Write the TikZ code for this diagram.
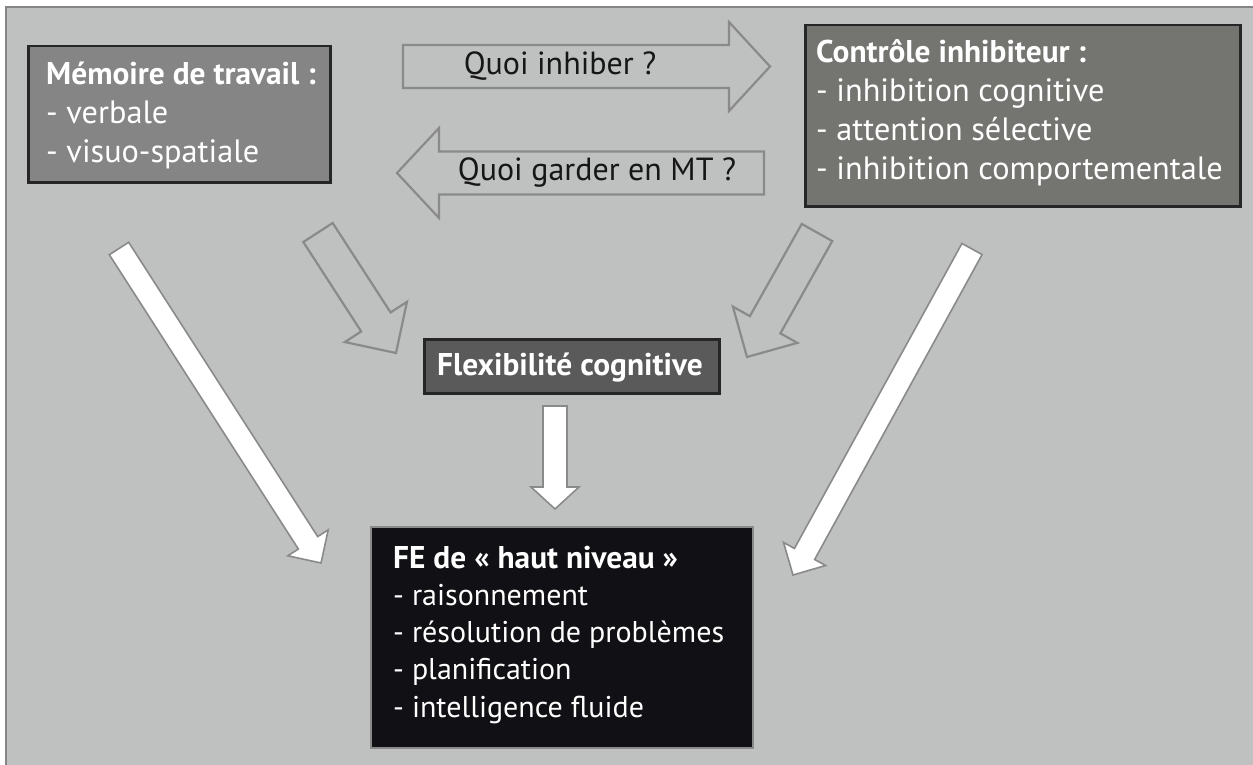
\documentclass[tikz,border=0pt]{standalone}
\usepackage{fontspec}
\setmainfont{PT Sans}
\usetikzlibrary{calc}
\definecolor{bg}{HTML}{BEC1BF}
\definecolor{frame}{HTML}{858585}
\definecolor{arrgray}{HTML}{8A8A8A}
\definecolor{mtfill}{HTML}{858585}
\definecolor{cifill}{HTML}{747571}
\definecolor{flexfill}{HTML}{5A5A5A}
\definecolor{fefill}{HTML}{111014}
\definecolor{darkedge}{HTML}{262626}
\definecolor{txt}{HTML}{161616}
\newcommand\blockarr[6]{%
  \coordinate (ba-n) at ($(#2)!#5pt!(#1)$);
  \path[#6] ($(#1)!#3pt!90:(#2)$) -- ($(ba-n)!#3pt!90:(#2)$) -- ($(ba-n)!#4pt!90:(#2)$) -- (#2)
     -- ($(ba-n)!#4pt!-90:(#2)$) -- ($(ba-n)!#3pt!-90:(#2)$) -- ($(#1)!#3pt!-90:(#2)$) -- cycle;}
\newcommand\hd[1]{{\fontsize{31.4}{38.7}\selectfont\bfseries #1}}
\tikzset{
  boxshape/.style={draw=#1, rectangle, inner sep=0pt, anchor=north west},
  boxtext/.style={anchor=base west, inner sep=0pt, text=white,
    font=\fontsize{32.3}{38.7}\selectfont},
  hollowarr/.style={draw=arrgray, line width=2.2pt},
  whitearr/.style={draw=arrgray, fill=white, line width=1.6pt},
  arrlabel/.style={inner sep=0pt, text=txt, font=\fontsize{32}{36}\selectfont},
}
\begin{document}
\begin{tikzpicture}[x=1pt,y=-1pt]
\useasboundingbox (0,0) rectangle (1253,765);
\fill[white] (0,0) rectangle (1253,765);
\draw[draw=frame, line width=2pt, fill=bg] (6,7) rectangle (1270,790);

% boxes
\node[boxshape=darkedge, line width=2.5pt, fill=mtfill, minimum width=302pt, minimum height=136pt] (mt) at (27,45) {};
\node[boxtext] (mt-t) at (46,85) {\begin{tabular}[t]{@{}l@{}}\hd{Mémoire de travail :}\\- verbale\\- visuo-spatiale\end{tabular}};

\node[boxshape=darkedge, line width=2.5pt, fill=cifill, minimum width=435pt, minimum height=181pt] (ci) at (804,24) {};
\node[boxtext] (ci-t) at (816,63) {\begin{tabular}[t]{@{}l@{}}\hd{Contrôle inhibiteur :}\\- inhibition cognitive\\- attention sélective\\- inhibition comportementale\end{tabular}};

\node[boxshape=darkedge, line width=2.5pt, fill=flexfill, minimum width=295pt, minimum height=54pt] (flex) at (423,338) {};
\node[boxtext] (flex-t) at (437,375) {\hd{Flexibilité cognitive}};

\node[boxshape=arrgray, line width=1.5pt, fill=fefill, minimum width=382pt, minimum height=221pt] (fe) at (370,526) {};
\node[boxtext, font=\fontsize{30}{37.3}\selectfont] (fe-t) at (393,568) {\begin{tabular}[t]{@{}l@{}}\hd{FE de « haut niveau »}\\- raisonnement\\- résolution de problèmes\\- planification\\- intelligence fluide\end{tabular}};

% arrow end points
\coordinate (qi-a) at (403,66.5);  \coordinate (qi-b) at (770,66.5);
\coordinate (qg-a) at (764,173);   \coordinate (qg-b) at (397,173);
\coordinate (mf-a) at (318,232.5); \coordinate (mf-b) at (396,353);
\coordinate (cf-a) at (817,232.5); \coordinate (cf-b) at (747,357);
\coordinate (mfe-a) at (119,248.5); \coordinate (mfe-b) at (321,563);
\coordinate (cfe-a) at (972,249);  \coordinate (cfe-b) at (793,575);
\coordinate (ffe-a) at (555,406);  \coordinate (ffe-b) at (555,509);

\blockarr{qi-a}{qi-b}{21.5}{44.5}{41}{hollowarr}
\blockarr{qg-a}{qg-b}{21.5}{45}{42}{hollowarr}
\blockarr{mf-a}{mf-b}{17.5}{37}{37}{hollowarr}
\blockarr{cf-a}{cf-b}{17.5}{37}{37}{hollowarr}
\blockarr{mfe-a}{mfe-b}{11.5}{24}{24}{whitearr}
\blockarr{cfe-a}{cfe-b}{11.5}{24}{24}{whitearr}
\blockarr{ffe-a}{ffe-b}{12}{24}{22}{whitearr}

\node[arrlabel] (qi-l) at (560,66) {Quoi inhiber ?};
\node[arrlabel] (qg-l) at (597,172) {Quoi garder en MT ?};
\end{tikzpicture}
\end{document}
